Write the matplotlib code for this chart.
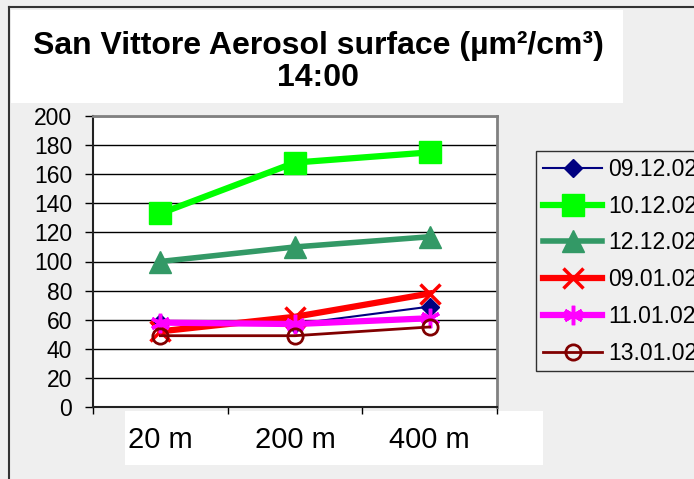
import matplotlib
matplotlib.use("Agg")
import matplotlib.pyplot as plt
from matplotlib.patches import Rectangle
from matplotlib.lines import Line2D

categories = ["20 m", "200 m", "400 m"]
series_names = ["09.12.02", "10.12.02", "12.12.02", "09.01.02", "11.01.02", "13.01.02"]
s_091202 = [58, 57, 69]
s_101202 = [133, 168, 175]
s_121202 = [100, 110, 117]
s_090102 = [52, 62, 78]
s_110102 = [58, 57, 61]
s_130102 = [49, 49, 55]
yticks = list(range(0, 201, 20))

values = [s_091202, s_101202, s_121202, s_090102, s_110102, s_130102]
styles = [
    dict(color="#000080", lw=1.5, marker="D", ms=9, mfc="#000080", mec="#000080"),
    dict(color="#00ff00", lw=4.5, marker="s", ms=16, mfc="#00ff00", mec="#00ff00"),
    dict(color="#339966", lw=4.0, marker="^", ms=16, mfc="#339966", mec="#339966"),
    dict(color="#ff0000", lw=4.5, marker="x", ms=15, mew=2.5, mec="#ff0000"),
    dict(color="#ff00ff", lw=4.5, marker=(6, 2, 0), ms=14, mew=2.5, mec="#ff00ff"),
    dict(color="#800000", lw=2.0, marker="o", ms=11, mew=2, mfc="none", mec="#800000"),
]

plt.rcParams['font.family'] = ['Liberation Sans', 'DejaVu Sans']
W, H = 694, 479
fig = plt.figure(figsize=(W / 100, H / 100), dpi=100, facecolor="#efefef")

def fx(x): return x / W
def fy(y): return 1 - y / H

# outer border lines
fig.add_artist(Line2D([fx(9), fx(694)], [fy(7), fy(7)], color="#333333", lw=1.5))
fig.add_artist(Line2D([fx(9), fx(9)], [fy(7), fy(479)], color="#333333", lw=1.5))
# title white box
fig.add_artist(Rectangle((fx(11), fy(103)), fx(623 - 11), (103 - 10) / H, facecolor="white", edgecolor="none", zorder=0))
# x label white box
fig.add_artist(Rectangle((fx(125), fy(465)), fx(543 - 125), (465 - 411) / H, facecolor="white", edgecolor="none", zorder=0))

fig.text(fx(318), fy(46), "San Vittore Aerosol surface (\u00b5m\u00b2/cm\u00b3)", ha="center", va="center",
         fontsize=23, fontweight="bold")
fig.text(fx(318), fy(78), "14:00", ha="center", va="center", fontsize=23, fontweight="bold")

ax = fig.add_axes([fx(93), fy(407), fx(497 - 93), (407 - 116) / H])
ax.set_facecolor("white")
x = list(range(len(categories)))
for name, vals, st in zip(series_names, values, styles):
    ax.plot(x, vals, label=name, clip_on=False, **st)

ax.set_xlim(-0.5, 2.5)
ax.set_ylim(0, 200)
ax.set_yticks(yticks)
ax.yaxis.grid(True, color="black", lw=1)
ax.set_axisbelow(True)
ax.tick_params(axis="y", direction="out", length=6, width=1, pad=9, labelsize=16.5, colors="black")
ax.set_xticks(x)
ax.set_xticklabels(categories)
ax.set_xticks([-0.5, 0.5, 1.5, 2.5], minor=True)
ax.tick_params(axis="x", which="major", length=0, pad=14, labelsize=21)
ax.tick_params(axis="x", which="minor", direction="out", length=5, width=1)
for s in ["left", "bottom"]:
    ax.spines[s].set_color("#222222")
    ax.spines[s].set_linewidth(1.5)
for s in ["top", "right"]:
    ax.spines[s].set_color("#808080")
    ax.spines[s].set_linewidth(2)

leg = fig.legend(loc="upper left", bbox_to_anchor=(fx(536), fy(151)), frameon=True, fontsize=16.5,
                 handlelength=2.6, handletextpad=0.25, labelspacing=0.6, borderpad=0.3,
                 fancybox=False, borderaxespad=0)
leg.get_frame().set_edgecolor("black")
leg.get_frame().set_facecolor("#efefef")
leg.get_frame().set_linewidth(1)

fig.savefig("out.png", dpi=100, facecolor=fig.get_facecolor())
